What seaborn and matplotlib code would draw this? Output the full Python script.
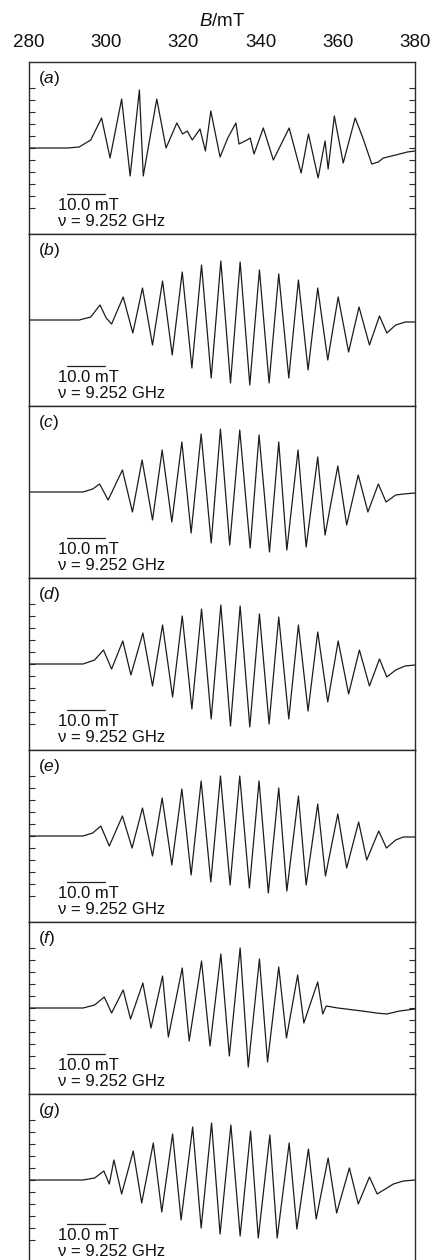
import matplotlib
matplotlib.use("Agg")
import matplotlib.pyplot as plt
import numpy as np
import pandas as pd
import seaborn as sns

# ---------------- data ----------------
field_ticks = [280, 300, 320, 340, 360, 380]
panel_letters = ["a", "b", "c", "d", "e", "f", "g"]

field_a = [280, 290, 293, 296, 298.8, 301.0, 304.0, 306.2, 308.6, 309.6, 313.1, 315.5, 318.3, 319.8,
           321.0, 322.3, 324.3, 325.7, 327.1, 329.5, 331.5, 333.6, 334.4, 336.5, 337.3, 338.3, 340.7,
           343.3, 347.4, 350.5, 352.4, 354.9, 356.7, 357.5, 359.1, 361.4, 364.5, 366.5, 368.8, 370.5,
           371.8, 375, 378, 380]
signal_a = [0, 0, 1, 8, 30, -10, 49, -28, 58, -28, 49, 0, 25, 14,
            17, 8, 19, -3, 37, -9, 10, 25, 4, 8, 10, -6, 20,
            -12, 20, -25, 14, -30, 7, -21, 32, -15, 30, 10, -16, -14,
            -10, -7, -4, -3]

field_b = [280, 293, 296, 298.4, 300.0, 301.4, 304.4, 306.9, 309.4, 312.0, 314.6, 317.1, 319.7, 322.2,
           324.7, 327.2, 329.7, 332.2, 334.7, 337.2, 339.7, 342.2, 344.7, 347.3, 349.8, 352.3, 354.8,
           357.4, 360.1, 362.8, 365.5, 368.2, 370.8, 372.7, 375, 377.5, 380]
signal_b = [0, 0, 3, 15, 2, -4, 23, -13, 32, -25, 39, -35, 48, -48,
            55, -58, 59, -63, 58, -65, 50, -63, 46, -58, 40, -50, 32,
            -40, 23, -32, 13, -25, 4, -13, -5, -2, -2]

field_c = [280, 294, 296.5, 298.3, 300.5, 304.2, 306.8, 309.3, 312.0, 314.5, 317.0, 319.6, 322.0,
           324.6, 327.2, 329.6, 332.0, 334.6, 337.3, 339.6, 342.3, 344.7, 346.8, 349.7, 351.8, 354.8,
           356.7, 360.0, 362.3, 365.3, 367.8, 370.5, 372.5, 375, 377, 380]
signal_c = [0, 0, 3, 8, -8, 22, -20, 32, -28, 42, -30, 50, -41,
            58, -51, 63, -53, 62, -56, 57, -60, 50, -58, 42, -55, 35,
            -43, 26, -33, 17, -20, 8, -10, -3, -2, -1]

field_d = [280, 294, 297, 299.3, 301.4, 304.3, 306.4, 309.5, 312.0, 314.6, 317.2, 319.7, 322.2,
           324.7, 327.2, 329.7, 332.2, 334.7, 337.2, 339.7, 342.2, 344.7, 347.3, 349.8, 352.3, 354.8,
           357.4, 360.1, 362.8, 365.6, 368.2, 370.8, 372.7, 375, 377.4, 380]
signal_d = [0, 0, 4, 14, -5, 23, -11, 31, -22, 39, -33, 48, -45,
            55, -55, 59, -62, 58, -63, 50, -60, 47, -55, 39, -47, 32,
            -38, 23, -30, 14, -22, 5, -13, -6, -2, -1]

field_e = [280, 294, 296.5, 298.6, 300.8, 304.2, 306.7, 309.4, 312.0, 314.5, 317.0, 319.6, 322.0,
           324.6, 327.1, 329.6, 332.1, 334.6, 337.1, 339.6, 342.0, 344.7, 346.8, 349.8, 351.8, 354.8,
           356.8, 360.0, 362.3, 365.4, 367.5, 370.6, 372.6, 375, 377, 380]
signal_e = [0, 0, 3, 10, -10, 20, -12, 28, -20, 38, -29, 47, -39,
            55, -46, 60, -49, 60, -52, 55, -57, 48, -55, 40, -49, 32,
            -40, 22, -32, 14, -24, 5, -12, -4, -1, -1]

field_f = [280, 294, 297, 299.5, 301.4, 304.4, 306.3, 309.5, 311.6, 314.6, 316.1, 319.7, 321.5,
           324.7, 326.9, 329.7, 331.9, 334.7, 336.8, 339.7, 341.8, 344.7, 346.7, 349.6, 351.2, 354.8,
           356.1, 357.0, 360, 366.3, 370, 372.7, 376, 380]
signal_f = [0, 0, 3, 11, -5, 18, -11, 25, -20, 32, -29, 40, -33,
            47, -38, 54, -48, 60, -59, 49, -54, 41, -30, 33, -15, 26,
            -6, 2, 0, -3, -5, -6, -3, -1]

field_g = [280, 294, 297, 299.4, 300.8, 302.0, 304.0, 307.0, 309.2, 312.2, 314.4, 317.2, 319.4,
           322.4, 324.6, 327.3, 329.5, 332.3, 334.7, 337.4, 339.4, 342.4, 344.3, 347.4, 349.4, 352.4,
           354.4, 357.5, 359.7, 363.0, 365.3, 368.2, 370.2, 374.4, 377, 380]
signal_g = [0, 0, 2, 9, -4, 20, -14, 29, -23, 37, -32, 46, -40,
            53, -48, 57, -54, 55, -56, 49, -58, 45, -58, 37, -49, 31,
            -39, 22, -33, 12, -24, 3, -14, -4, -1, 0]

scale_bar_start = 289.8      # mT
scale_bar_length = 10.0      # mT
scale_text = "10.0 mT"
freq_text = "\u03bd = 9.252 GHz"

fields = [field_a, field_b, field_c, field_d, field_e, field_f, field_g]
signals = [signal_a, signal_b, signal_c, signal_d, signal_e, signal_f, signal_g]

# ---------------- styling ----------------
sns.set_theme(style="white")
plt.rcParams["font.family"] = ["Liberation Sans", "DejaVu Sans"]
plt.rcParams["mathtext.fontset"] = "custom"
plt.rcParams["mathtext.rm"] = "Liberation Sans"
plt.rcParams["mathtext.it"] = "Liberation Sans:italic"

W, H = 434, 1260
fig = plt.figure(figsize=(W / 100, H / 100), dpi=100)

left_px, right_px = 29, 415
top_px, panel_px = 62, 172
half = panel_px / 2
frame_col = "#2a2a2a"
tick_set = list(range(-60, 61, 12))
left_tick_panels = {"a", "d", "e", "f", "g"}
right_tick_panels = {"a", "f"}

for i, (letter, fx, sy) in enumerate(zip(panel_letters, fields, signals)):
    t = top_px + i * panel_px
    ax = fig.add_axes([left_px / W, 1 - (t + panel_px) / H,
                       (right_px - left_px) / W, panel_px / H])
    df = pd.DataFrame({"B": fx, "S": sy})
    sns.lineplot(data=df, x="B", y="S", ax=ax, color="#1c1c1c", lw=0.9,
                 sort=False, estimator=None, legend=False)
    for ln in ax.lines:
        ln.set_solid_joinstyle("round")
    ax.set_xlim(280, 380)
    ax.set_ylim(-half, half)
    ax.set_ylabel("")
    ax.set_xlabel("")
    for sp in ax.spines.values():
        sp.set_visible(True)
        sp.set_color(frame_col)
        sp.set_linewidth(1.0)

    # y ticks (small inward marks, no labels)
    ax.set_yticks(tick_set)
    ax.tick_params(axis="y", which="both", direction="in", length=4, width=0.8,
                   color=frame_col, labelleft=False, labelright=False,
                   left=letter in left_tick_panels, right=letter in right_tick_panels)

    if i == 0:
        ax.xaxis.set_label_position("top")
        ax.xaxis.tick_top()
        ax.set_xticks(field_ticks)
        ax.set_xticklabels([str(v) for v in field_ticks])
        ax.tick_params(axis="x", length=0, pad=8, labelsize=13.5, labelcolor="#111")
        ax.set_xlabel(r"$\mathit{B}$/mT", fontsize=13.5, labelpad=6, color="#111")
    else:
        ax.set_xticks([])

    # panel letter
    ax.text(0.024, 1 - 16 / panel_px, "(" + r"$\mathit{" + letter + "}$" + ")",
            transform=ax.transAxes, ha="left", va="center", fontsize=12.5, color="#111")

    # scale bar and annotation
    off = -2 if letter == "g" else 0
    ybar = half - 132 - off
    ax.plot([scale_bar_start, scale_bar_start + scale_bar_length], [ybar, ybar],
            color="#222", lw=0.9)
    ax.text(287.5, half - 148 - off, scale_text, ha="left", va="baseline",
            fontsize=12, color="#111")
    ax.text(287.5, half - 164 - off, freq_text, ha="left", va="baseline",
            fontsize=12, color="#111")

fig.savefig("out.png", dpi=100)
